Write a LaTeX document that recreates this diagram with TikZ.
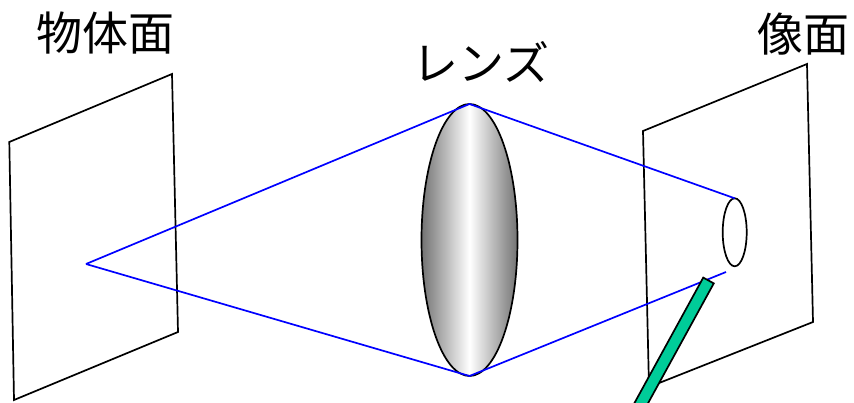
\documentclass[tikz,border=0pt]{standalone}
\usepackage{fontspec}
\newfontfamily\jpfont{Noto Sans CJK JP}
\usetikzlibrary{shapes.geometric,positioning}
\definecolor{rodgreen}{RGB}{0,204,153}

\begin{document}
\begin{tikzpicture}[x=1pt,y=-1pt,
  plane/.style={draw,line width=1.7pt},
  ray/.style={draw=blue,line width=1.7pt},
  title/.style={font=\jpfont\fontsize{46}{46}\selectfont,inner sep=0pt}]
  \useasboundingbox (0,0) rectangle (854,403);

  \node[title] (objname) at (105,33) {物体面};
  \node[title] (lensname) at (481,62) {レンズ};
  \node[title] (imgname) at (803,34) {像面};

  \draw[plane] (9.3,142) -- (172,74) -- (178,332) -- (14,400) -- cycle;
  \draw[plane] (643,131) -- (807,64) -- (813,322) -- (649,387) -- cycle;

  \node[ellipse,draw,line width=1.7pt,inner sep=0pt,outer sep=0pt,
        minimum width=96pt,minimum height=272pt,
        left color=black!55,right color=black!55,middle color=white] (lens) at (469.5,240) {};
  \node[ellipse,draw,line width=1.7pt,inner sep=0pt,outer sep=0pt,
        minimum width=24pt,minimum height=68pt] (img) at (734.7,232.3) {};

  \coordinate (src) at (86,264);
  \coordinate (tip) at (726,272);
  \path[ray] (src) -- (lens.north) -- (img.north);
  \path[ray] (src) -- (lens.south) -- (tip);

  \begin{scope}
    \clip (0,0) rectangle (854,403);
    \draw[line width=1.7pt,fill=rodgreen] (703.25,277.6) -- (713.75,283.4)
      -- (636.95,423.4) -- (626.45,417.6) -- cycle;
  \end{scope}
\end{tikzpicture}
\end{document}
